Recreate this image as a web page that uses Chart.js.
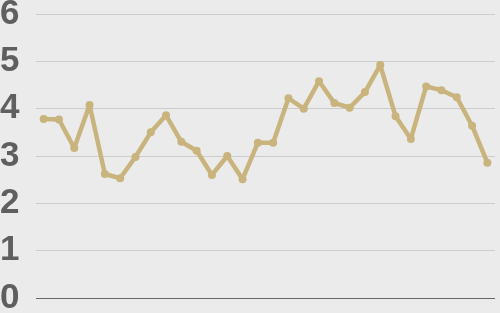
<!DOCTYPE html>
<html>
<head>
<meta charset="utf-8">
<script src="https://cdn.jsdelivr.net/npm/chart.js@4/dist/chart.umd.min.js"></script>
<style>
  html, body { margin: 0; padding: 0; background: #ebebeb; }
  #wrap { width: 500px; height: 313px; }
</style>
</head>
<body>
<div id="wrap"><canvas id="c" width="500" height="313"></canvas></div>
<script>
const categories = Array.from({length: 30}, (_, i) => String(i + 1));
const values = [3.78, 3.77, 3.17, 4.08, 2.62, 2.53, 2.98, 3.50, 3.86, 3.30,
                3.11, 2.60, 3.00, 2.51, 3.28, 3.28, 4.22, 4.00, 4.58, 4.12,
                4.02, 4.35, 4.92, 3.84, 3.36, 4.47, 4.39, 4.24, 3.64, 2.86];
const yTicks = [0, 1, 2, 3, 4, 5, 6];

new Chart(document.getElementById('c'), {
  type: 'line',
  data: {
    labels: categories,
    datasets: [{
      data: values,
      borderColor: '#c8b47c',
      backgroundColor: '#c8b47c',
      borderWidth: 4.5,
      borderJoinStyle: 'round',
      borderCapStyle: 'round',
      pointRadius: 4,
      pointBorderWidth: 0,
      tension: 0,
      fill: false
    }]
  },
  options: {
    responsive: false,
    animation: false,
    devicePixelRatio: 1,
    layout: { padding: { top: 14, bottom: 15, left: 0, right: 5 } },
    plugins: { legend: { display: false }, tooltip: { enabled: false } },
    scales: {
      x: { display: false, offset: true },
      y: {
        min: 0, max: 6,
        afterBuildTicks: (s) => { s.ticks = yTicks.map(v => ({ value: v })); },
        afterFit: (s) => { s.width = 36; },
        border: { display: false },
        grid: {
          drawTicks: false,
          color: (ctx) => ctx.tick && ctx.tick.value === 0 ? '#666666' : '#cccccc',
          lineWidth: 1
        },
        ticks: {
          crossAlign: 'far',
          padding: 0,
          color: '#5f5f5f',
          font: { family: 'Liberation Sans, Arial, sans-serif', size: 35, weight: 'bold', lineHeight: 0.8 }
        }
      }
    }
  }
});
</script>
</body>
</html>
